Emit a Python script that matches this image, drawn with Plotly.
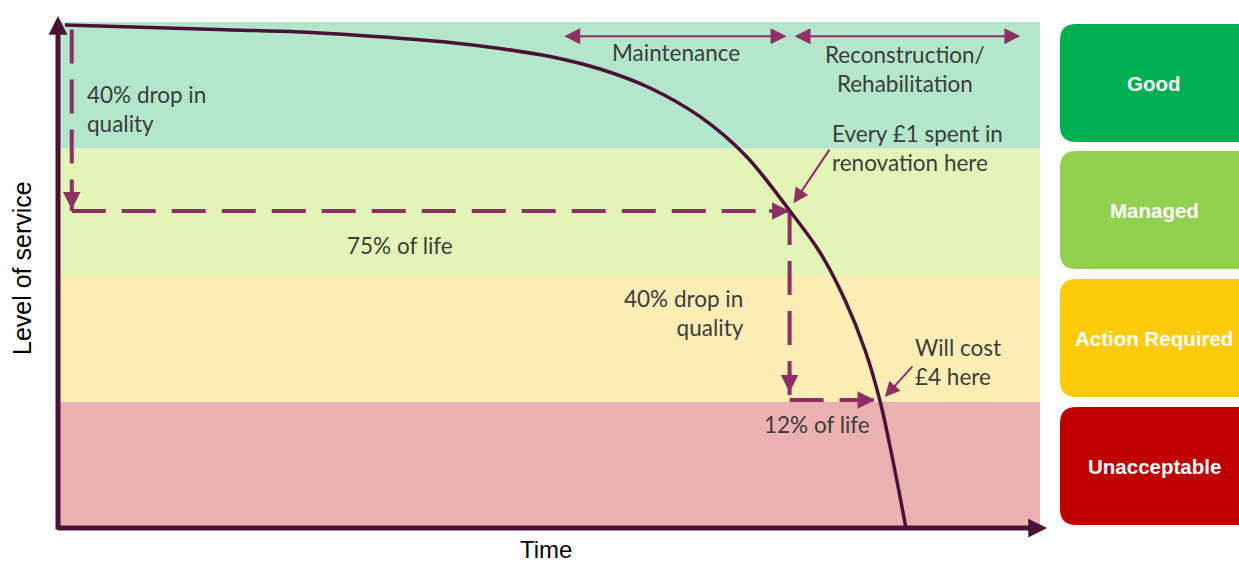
import plotly.graph_objects as go

# ---------------- data ----------------
time = [0.71, 9.37, 17.01, 24.64, 32.28, 39.92, 45.01, 50.10, 55.19, 60.29, 65.38,
        69.96, 74.54, 77.60, 80.14, 82.18, 83.71, 85.03, 86.35]
level = [99.41, 98.89, 98.46, 98.02, 97.13, 95.95, 94.76, 93.18, 90.71, 86.96, 81.29,
         73.72, 62.65, 54.45, 45.06, 35.18, 25.10, 13.24, 0.0]

band_names = ["Unacceptable", "Action Required", "Managed", "Good"]
band_edges = [0, 25, 50, 75, 100]
band_fill = ["#EAB1B0", "#FEEDB4", "#E2F5B7", "#B3E6CA"]
box_fill = ["#C00000", "#FDCB0A", "#92D050", "#00AF50"]

# guide points: 75% of life (level 62.65) and 12% of life (level 25.3)
first_drop_x = [1.4, 1.4, 74.5]
first_drop_y = [98.5, 62.65, 62.65]
second_drop_x = [74.5, 74.5, 83.2]
second_drop_y = [62.65, 25.3, 25.3]

W, H = 1239, 562
CURVE = "#4B1239"
MAG = "#8E2F66"
TXT = "#3D3D3D"
FONT = "Lato"

def px(x):
    return x / W

def py(y):
    return 1 - y / H

fig = go.Figure()

shapes = []
for i in range(4):
    shapes.append(dict(type="rect", xref="x", yref="y", x0=0, x1=100,
                       y0=band_edges[i], y1=band_edges[i + 1],
                       fillcolor=band_fill[i], line=dict(width=0), layer="below"))

# dashed guides, each leg drawn separately so every leg starts with a dash
for xs, ys in [(first_drop_x, first_drop_y), (second_drop_x, second_drop_y)]:
    for k in range(len(xs) - 1):
        fig.add_trace(go.Scatter(x=xs[k:k + 2], y=ys[k:k + 2], mode="lines",
                                 line=dict(color=MAG, width=4, dash="34px,16px"),
                                 hoverinfo="skip", showlegend=False))

fig.add_trace(go.Scatter(x=time, y=level, mode="lines",
                         line=dict(color=CURVE, width=3.5, shape="spline", smoothing=1.0),
                         hoverinfo="skip", showlegend=False))

def rounded(x0, y0, x1, y1, r):
    pts = [("M", x0 + r, y0), ("L", x1 - r, y0), ("Q", x1, y0, x1, y0 + r),
           ("L", x1, y1 - r), ("Q", x1, y1, x1 - r, y1), ("L", x0 + r, y1),
           ("Q", x0, y1, x0, y1 - r), ("L", x0, y0 + r), ("Q", x0, y0, x0 + r, y0)]
    s = ""
    for p in pts:
        coords = p[1:]
        parts = [f"{px(coords[j]):.5f},{py(coords[j+1]):.5f}" for j in range(0, len(coords), 2)]
        s += p[0] + " " + " ".join(parts) + " "
    return s + "Z"

box_tops = [407, 279, 151, 24]
box_h = 118
annotations = []
for i in range(4):
    shapes.append(dict(type="path", xref="paper", yref="paper",
                       path=rounded(1060, box_tops[i], 1262, box_tops[i] + box_h, 16),
                       fillcolor=box_fill[i], line=dict(width=0)))
    annotations.append(dict(xref="paper", yref="paper", x=px(1154), y=py(box_tops[i] + box_h / 2),
                            xanchor="center", yanchor="middle",
                            text=f"<b>{band_names[i]}</b>", showarrow=False,
                            font=dict(family="Liberation Sans, Arial", size=20.5, color="white")))

# axes arrows
annotations.append(dict(xref="paper", yref="paper", x=px(58), y=py(16), ax=0, ay=515,
                        text="", showarrow=True,
                        arrowhead=2, arrowsize=0.75, arrowwidth=5, arrowcolor=CURVE))
annotations.append(dict(xref="paper", yref="paper", x=px(1047), y=py(528), ax=-991, ay=0,
                        text="", showarrow=True,
                        arrowhead=2, arrowsize=0.75, arrowwidth=5, arrowcolor=CURVE))

# arrowheads of dashed guides
annotations.append(dict(x=first_drop_x[1], y=first_drop_y[1] + 0.3, ax=0, ay=-22, text="",
                        showarrow=True, arrowhead=2, arrowsize=1, arrowwidth=3.5, arrowcolor=MAG))
annotations.append(dict(x=first_drop_x[2], y=first_drop_y[2], ax=-22, ay=0, text="",
                        showarrow=True, arrowhead=2, arrowsize=1, arrowwidth=3.5, arrowcolor=MAG))
annotations.append(dict(x=second_drop_x[1], y=second_drop_y[1] + 1.5, ax=0, ay=-22, text="",
                        showarrow=True, arrowhead=2, arrowsize=1, arrowwidth=3.5, arrowcolor=MAG))
annotations.append(dict(x=second_drop_x[2], y=second_drop_y[2], ax=-22, ay=0, text="",
                        showarrow=True, arrowhead=2, arrowsize=1, arrowwidth=3.5, arrowcolor=MAG))

# double arrows at top
for x0, x1 in [(51.4, 74.2), (74.85, 98.0)]:
    annotations.append(dict(x=x1, y=97.2, ax=x0, ay=97.2, axref="x", ayref="y", text="",
                            showarrow=True, arrowhead=2, arrowside="end+start", arrowsize=1.6,
                            arrowwidth=2, arrowcolor=MAG))

# pointer arrows
annotations.append(dict(x=74.9, y=64.2, ax=37, ay=-55, text="", showarrow=True,
                        arrowhead=2, arrowsize=1.5, arrowwidth=2, arrowcolor=MAG))
annotations.append(dict(x=84.2, y=25.9, ax=29, ay=-32, text="", showarrow=True,
                        arrowhead=2, arrowsize=1.5, arrowwidth=2, arrowcolor=MAG))

def label(x, y, text, xanchor="center", align="center"):
    annotations.append(dict(x=x, y=y, text=text, showarrow=False, xanchor=xanchor,
                            yanchor="middle", align=align,
                            font=dict(family=FONT, size=22.5, color=TXT)))

label(2.75, 82.9, "40% drop in<br>quality", "left", "left")
label(34.8, 55.9, "75% of life")
label(70.06, 42.5, "40% drop in<br>quality", "right", "right")
label(77.3, 20.4, "12% of life")
label(62.9, 93.9, "Maintenance")
label(86.25, 90.7, "Reconstruction/<br>Rehabilitation")
label(78.6, 75.1, "Every £1 spent in<br>renovation here", "left", "left")
label(87.1, 32.8, "Will cost<br>£4 here", "left", "left")

annotations.append(dict(xref="paper", yref="paper", x=px(22), y=py(268), text="Level of service",
                        textangle=-90, showarrow=False, xanchor="center", yanchor="middle",
                        font=dict(family="Liberation Sans, Arial", size=25, color="black")))
annotations.append(dict(xref="paper", yref="paper", x=px(546), y=py(549), text="Time",
                        showarrow=False, xanchor="center", yanchor="middle",
                        font=dict(family="Liberation Sans, Arial", size=24, color="black")))

fig.update_layout(
    width=W, height=H,
    margin=dict(l=0, r=0, t=0, b=0),
    paper_bgcolor="white", plot_bgcolor="rgba(0,0,0,0)",
    xaxis=dict(range=[0, 100], domain=[px(58), px(1040)], visible=False, fixedrange=True),
    yaxis=dict(range=[0, 100], domain=[py(528), py(22)], visible=False, fixedrange=True),
    shapes=shapes, annotations=annotations, showlegend=False,
)

fig.write_html("out.html", config={"displayModeBar": False},
               post_script="document.body.style.margin='0';document.body.style.overflow='hidden';")
